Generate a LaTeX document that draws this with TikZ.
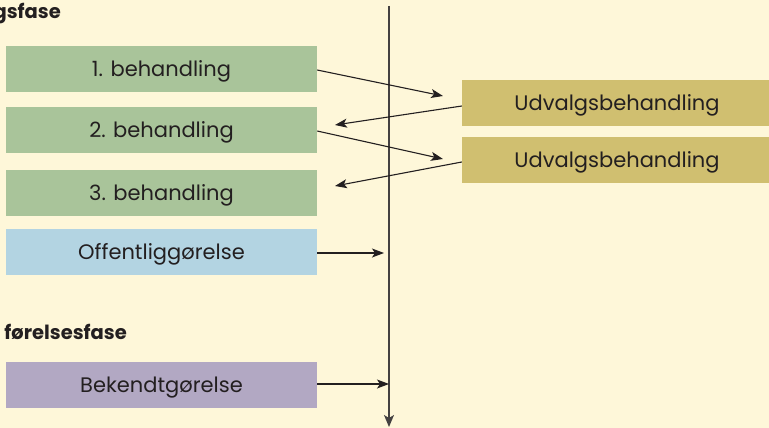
\documentclass[tikz,border=0pt]{standalone}
\usepackage{fontspec}
\setmainfont{Poppins}
\usetikzlibrary{arrows.meta}
\definecolor{bg}{HTML}{FEF7D9}
\definecolor{gr}{HTML}{A9C49A}
\definecolor{bl}{HTML}{B3D4E2}
\definecolor{pu}{HTML}{B2A8C3}
\definecolor{ol}{HTML}{D0BF70}
\definecolor{ink}{HTML}{231F20}
\begin{document}
\begin{tikzpicture}[x=1pt,y=-1pt,
  box/.style={minimum width=311pt,minimum height=46pt,inner sep=0pt,font=\fontsize{21}{22}\selectfont,text=ink,text depth=0pt,text height=0pt,align=center},
  ubox/.style={box,minimum width=310pt,fill=ol},
  head/.style={font=\fontseries{sb}\selectfont\fontsize{19.5}{22}\selectfont,text=ink,inner sep=0pt},
  conn/.style={draw=ink,line width=1.1pt,-{Stealth[length=12pt,width=9pt,inset=3pt]}},
  axis/.style={draw=ink!85,line width=1.4pt}]
\fill[bg] (0,0) rectangle (769,428);
\useasboundingbox (0,0) rectangle (769,428);
\node[head,anchor=base east] (h1) at (61,19) {gsfase};
\node[head,anchor=base east] (h2) at (127,339) {førelsesfase};
\node[box,fill=gr] (b1) at (161.5,69) {\raisebox{-7.5pt}{1. behandling}};
\node[box,fill=gr] (b2) at (161.5,130) {\raisebox{-7.5pt}{2. behandling}};
\node[box,fill=gr] (b3) at (161.5,193) {\raisebox{-7.5pt}{3. behandling}};
\node[box,fill=bl] (off) at (161.5,252) {\raisebox{-7.5pt}{Offentliggørelse}};
\node[box,fill=pu] (bek) at (161.5,385) {\raisebox{-7.5pt}{Bekendtgørelse}};
\node[ubox] (u1) at (617,103) {\raisebox{-7.5pt}{Udvalgsbehandling}};
\node[ubox] (u2) at (617,160) {\raisebox{-7.5pt}{Udvalgsbehandling}};
\coordinate (top) at (389,6);
\coordinate (bot) at (389,427);
\draw[axis,-{Stealth[length=12pt,width=10pt,inset=3pt]}] (top) -- (bot);
\coordinate (a1e) at (443,96);
\coordinate (a2e) at (335,125);
\coordinate (a3e) at (443,159);
\coordinate (a4e) at (335,186);
\coordinate (offe) at (384,253);
\coordinate (beke) at (389,384);
\draw[conn] ([yshift=-1pt]b1.east) -- (a1e);
\draw[conn] ([yshift=-3pt]u1.west) -- (a2e);
\draw[conn] ([yshift=-1pt]b2.east) -- (a3e);
\draw[conn] ([yshift=-2pt]u2.west) -- (a4e);
\draw[conn] (off.east |- offe) -- (offe);
\draw[conn] (bek.east |- beke) -- (beke);
\end{tikzpicture}
\end{document}
